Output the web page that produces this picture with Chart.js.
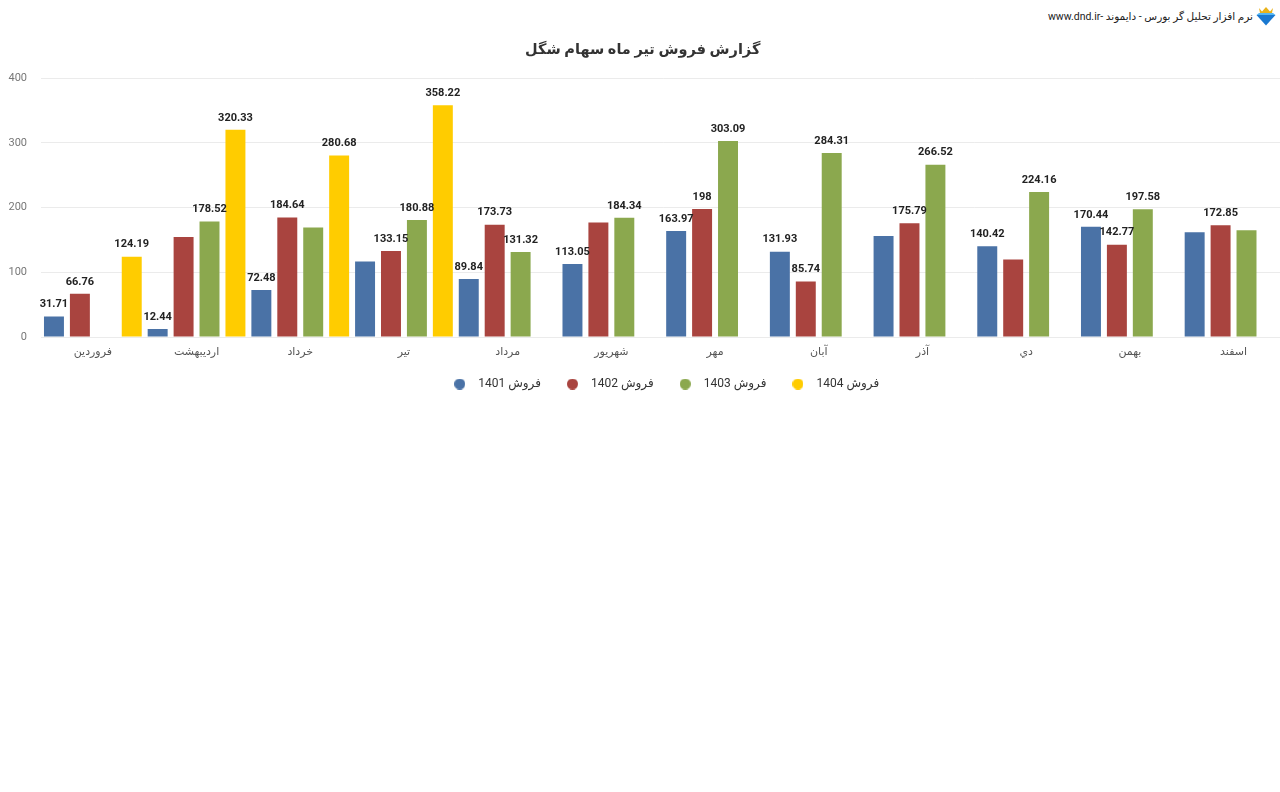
<!DOCTYPE html>
<html lang="fa"><head><meta charset="utf-8">
<script src="https://cdn.jsdelivr.net/npm/chart.js@4.4.1/dist/chart.umd.min.js"></script>
<style>
html,body{margin:0;padding:0;background:#fff;overflow:hidden;width:1280px;height:792px;}
#wrap{position:absolute;left:0;top:0;width:1292px;height:400px;}
#hdr{position:absolute;right:3px;top:5px;height:22px;display:flex;align-items:center;gap:2px;font:10.5px Roboto,"DejaVu Sans",sans-serif;color:#222;direction:rtl;}
</style></head><body>
<div id="hdr"><svg width="22" height="20" viewBox="0 0 22 20"><path d="M4 2 L7 5.5 L11 1 L15 5.5 L18 2 L17 7 L5 7Z" fill="#e9b21a"/><path d="M1.5 9 H20.5 L11 19.5 Z" fill="#1a78d0"/><path d="M1.5 9 H20.5 L18 7 H4Z" fill="#55b6f2"/></svg><span>نرم افزار تحلیل گر بورس - دایموند -www.dnd.ir</span></div>
<div id="wrap"><canvas id="c"></canvas></div>
<script>
const months = ['فروردین','اردیبهشت','خرداد','تیر','مرداد','شهریور','مهر','آبان','آذر','دي','بهمن','اسفند'];
const seriesNames = ['فروش 1401','فروش 1402','فروش 1403','فروش 1404'];
const sales1401 = [31.71, 12.44, 72.48, 116.7, 89.84, 113.05, 163.97, 131.93, 156.3, 140.42, 170.44, 162.1];
const sales1402 = [66.76, 154.8, 184.64, 133.15, 173.73, 177.0, 198, 85.74, 175.79, 119.8, 142.77, 172.85];
const sales1403 = [null, 178.52, 169.3, 180.88, 131.32, 184.34, 303.09, 284.31, 266.52, 224.16, 197.58, 165.2];
const sales1404 = [124.19, 320.33, 280.68, 358.22, null, null, null, null, null, null, null, null];
const shown1401 = [1,1,1,0,1,1,1,1,0,1,1,0];
const shown1402 = [1,0,1,1,1,0,1,1,1,0,1,1];
const shown1403 = [0,1,0,1,1,1,1,1,1,1,1,0];
const shown1404 = [1,1,1,1,0,0,0,0,0,0,0,0];
const yTicks = [0, 100, 200, 300, 400];
const seriesColors = ['#4a72a6', '#a9443f', '#8ba84e', '#ffcc00'];

const FONT = 'Roboto, "DejaVu Sans", sans-serif';

function circleImage(color) {
  const c = document.createElement('canvas');
  c.width = 11; c.height = 11;
  const g = c.getContext('2d');
  g.fillStyle = color;
  g.beginPath(); g.arc(5.5, 5.5, 5.5, 0, Math.PI * 2); g.fill();
  return c;
}
const legendDots = seriesColors.map(circleImage);

const valueLabels = {
  id: 'valueLabels',
  afterDatasetsDraw(chart) {
    const ctx = chart.ctx;
    ctx.save();
    ctx.font = 'bold 11px ' + FONT;
    ctx.fillStyle = '#222';
    ctx.textAlign = 'center';
    ctx.textBaseline = 'middle';
    chart.data.datasets.forEach((ds, di) => {
      const meta = chart.getDatasetMeta(di);
      meta.data.forEach((el, i) => {
        const v = ds.data[i];
        if (v == null || !ds.shown[i]) return;
        ctx.fillText(String(v), el.x, el.y - 12);
      });
    });
    ctx.restore();
  }
};

const allSales = [sales1401, sales1402, sales1403, sales1404];
const allShown = [shown1401, shown1402, shown1403, shown1404];

new Chart(document.getElementById('c'), {
  type: 'bar',
  data: {
    labels: months,
    datasets: allSales.map((d, i) => ({
      label: seriesNames[i],
      data: d,
      shown: allShown[i],
      backgroundColor: seriesColors[i],
      borderWidth: 0,
      categoryPercentage: 1.0,
      barPercentage: 0.77
    }))
  },
  options: {
    responsive: true,
    maintainAspectRatio: false,
    animation: false,
    devicePixelRatio: 1,
    layout: { padding: { left: 0, right: 6.6, top: 0, bottom: 0 } },
    scales: {
      x: {
        grid: { display: false, drawTicks: false },
        border: { display: false },
        ticks: { color: '#555', font: { size: 11, family: FONT }, padding: 9, maxRotation: 0, autoSkip: false },
        afterFit(s) { s.height = 22; }
      },
      y: {
        min: 0, max: 400,
        grid: { color: '#ebebeb', lineWidth: 1, drawTicks: false },
        border: { display: false },
        afterBuildTicks(s) { s.ticks = yTicks.map(v => ({ value: v })); },
        ticks: { color: '#777', font: { size: 11, family: FONT }, padding: 14 },
        afterFit(s) { s.width = 41; }
      }
    },
    plugins: {
      title: {
        display: true,
        text: 'گزارش فروش تیر ماه سهام شگل',
        color: '#333',
        font: { size: 14.5, weight: 'bold', family: FONT },
        padding: { top: 41.3, bottom: 19.6 }
      },
      legend: {
        position: 'bottom',
        fullSize: false,
        textDirection: 'rtl',
        labels: {
          usePointStyle: true,
          pointStyleWidth: 25,
          boxWidth: 12, boxHeight: 12,
          padding: 19,
          color: '#333',
          font: { size: 12, family: FONT },
          generateLabels(chart) {
            const items = Chart.defaults.plugins.legend.labels.generateLabels(chart);
            items.forEach(it => { it.pointStyle = legendDots[it.datasetIndex]; });
            return items;
          }
        }
      },
      tooltip: { enabled: false }
    }
  },
  plugins: [valueLabels]
});
</script>
</body></html>
